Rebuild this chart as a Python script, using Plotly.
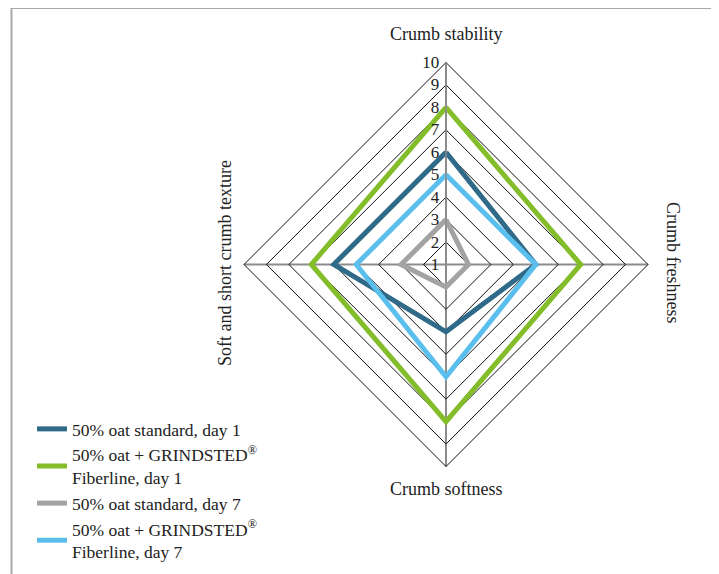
import plotly.graph_objects as go

categories = ["Crumb stability", "Crumb freshness", "Crumb softness", "Soft and short crumb texture"]
series_names = [
    "50% oat standard, day 1",
    "50% oat + GRINDSTED<sup>®</sup><br>Fiberline, day 1",
    "50% oat standard, day 7",
    "50% oat + GRINDSTED<sup>®</sup><br>Fiberline, day 7",
]
std_day1 = [6, 5, 4, 6]
fib_day1 = [8, 7, 8, 7]
std_day7 = [3, 2, 2, 3]
fib_day7 = [5, 5, 6, 5]
tick_vals = [1, 2, 3, 4, 5, 6, 7, 8, 9, 10]

colors = ["#2F6A89", "#84BD2A", "#A3A3A3", "#5ABFEC"]
values = [std_day1, fib_day1, std_day7, fib_day7]

W, H = 719, 574
OFF = 8  # page body margin


def px(x):
    return (x - OFF) / W


def py(y):
    return 1 - (y - OFF) / H


cx, cy, R = 446, 264.5, 202
FONT = "Liberation Serif"

fig = go.Figure()
for name, vals, col in zip(series_names, values, colors):
    fig.add_trace(go.Scatterpolar(
        r=vals + vals[:1],
        theta=categories + categories[:1],
        mode="lines",
        name=name,
        line=dict(color=col, width=5),
    ))

fig.update_layout(
    width=W, height=H,
    margin=dict(l=0, r=0, t=0, b=0),
    paper_bgcolor="white",
    font=dict(family=FONT, size=18, color="#222222"),
    polar=dict(
        domain=dict(x=[px(cx - R), px(cx + R)], y=[py(cy + R), py(cy - R)]),
        bgcolor="white",
        gridshape="linear",
        angularaxis=dict(
            direction="clockwise", rotation=90,
            showticklabels=False, ticks="",
            showgrid=True, gridcolor="#8C8C8C", gridwidth=1.5,
            showline=True, linecolor="#111111", linewidth=1,
        ),
        radialaxis=dict(
            range=[1, 10], tickvals=tick_vals, ticktext=[str(v) for v in tick_vals],
            angle=90, tickangle=90, side="counterclockwise",
            showline=True, linecolor="#8C8C8C", linewidth=1.5,
            gridcolor="#111111", gridwidth=1,
            ticks="", tickfont=dict(family=FONT, size=17, color="#222222"),
        ),
    ),
    legend=dict(
        x=px(32), y=py(411), xanchor="left", yanchor="top",
        font=dict(family=FONT, size=17.5, color="#222222"),
        bgcolor="rgba(0,0,0,0)", itemwidth=30, tracegroupgap=0,
    ),
    showlegend=True,
)

ann = [
    dict(text="Crumb stability", x=px(cx), y=py(34), textangle=0),
    dict(text="Crumb freshness", x=px(673), y=py(262), textangle=90),
    dict(text="Crumb softness", x=px(cx), y=py(489), textangle=0),
    dict(text="Soft and short crumb texture", x=px(225), y=py(263), textangle=-90),
]
for a in ann:
    fig.add_annotation(xref="paper", yref="paper", showarrow=False,
                       xanchor="center", yanchor="middle",
                       font=dict(family=FONT, size=18, color="#222222"), **a)

border = dict(color="#A8A8A8", width=2)
fig.add_shape(type="line", xref="paper", yref="paper", x0=px(11.5), x1=px(714.5), y0=1, y1=1, line=border)
fig.add_shape(type="line", xref="paper", yref="paper", x0=px(11.5), x1=px(11.5), y0=1, y1=0, line=border)
fig.add_shape(type="line", xref="paper", yref="paper", x0=px(714.5), x1=px(714.5), y0=1, y1=0, line=border)

fig.write_html("out.html")
